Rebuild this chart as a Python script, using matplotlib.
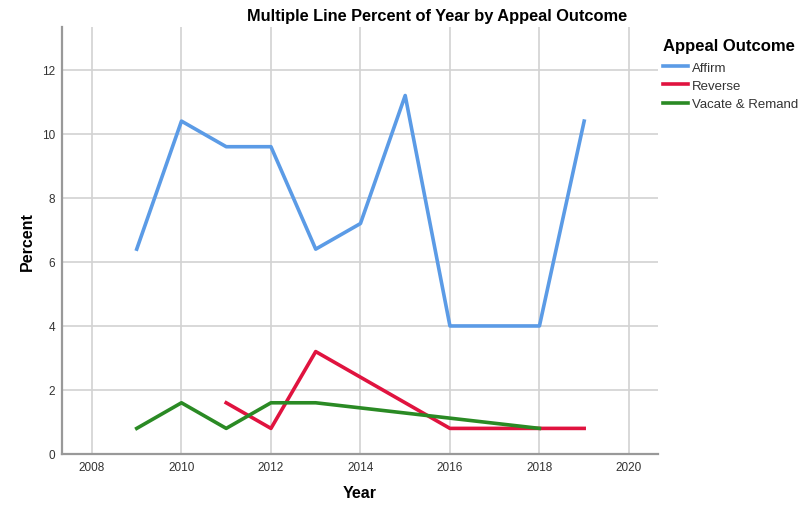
import numpy as np
import matplotlib.pyplot as plt

plt.rcParams['font.family'] = ['Liberation Sans', 'DejaVu Sans']

# data
affirm_years = [2009, 2010, 2011, 2012, 2013, 2014, 2015, 2016, 2017, 2018, 2019]
affirm_pct = [6.4, 10.4, 9.6, 9.6, 6.4, 7.2, 11.2, 4.0, 4.0, 4.0, 10.4]
reverse_years = [2011, 2012, 2013, 2016, 2017, 2018, 2019]
reverse_pct = [1.6, 0.8, 3.2, 0.8, 0.8, 0.8, 0.8]
vacate_years = [2009, 2010, 2011, 2012, 2013, 2018]
vacate_pct = [0.8, 1.6, 0.8, 1.6, 1.6, 0.8]

colors = ["#5b9be6", "#e0133f", "#2a8a24"]

fig = plt.figure(figsize=(7.99, 5.06), dpi=100)
ax = fig.add_axes([62/799, 1-455/506, (658-62)/799, (455-28)/506])

ax.plot(affirm_years, affirm_pct, color=colors[0], lw=2.6, label="Affirm")
ax.plot(reverse_years, reverse_pct, color=colors[1], lw=2.6, label="Reverse")
ax.plot(vacate_years, vacate_pct, color=colors[2], lw=2.6, label="Vacate & Remand")

ax.set_xlim(2007.33, 2020.65)
ax.set_ylim(0, 13.34)
ax.set_xticks(np.arange(2008, 2021, 2))
ax.set_yticks(np.arange(0, 13, 2))
ax.grid(True, color="#d2d2d2", lw=1.2)
ax.set_axisbelow(True)

for side in ['top', 'right']:
    ax.spines[side].set_visible(False)
for side in ['left', 'bottom']:
    ax.spines[side].set_color("#999999")
    ax.spines[side].set_linewidth(1.6)
ax.tick_params(length=0, labelsize=8.5, labelcolor="#333333", pad=5)

ax.set_xlabel("Year", fontsize=11.5, fontweight="bold", labelpad=9)
ax.set_ylabel("Percent", fontsize=11.5, fontweight="bold", labelpad=5)

fig.text(437/799, 1-16/506, "Multiple Line Percent of Year by Appeal Outcome",
         ha="center", va="center", fontsize=11.8, fontweight="bold")

leg = fig.legend(loc="upper left", bbox_to_anchor=(658/799, 1-34/506),
                 title="Appeal Outcome", frameon=False, fontsize=9.5,
                 handlelength=1.9, handletextpad=0.3, labelspacing=0.45,
                 borderaxespad=0, alignment="left")
leg.get_title().set_fontweight("bold")
leg.get_title().set_fontsize(12)
leg._legend_box.sep = 6
for t in leg.get_texts():
    t.set_color("#333333")

plt.savefig("out.png", dpi=100)
